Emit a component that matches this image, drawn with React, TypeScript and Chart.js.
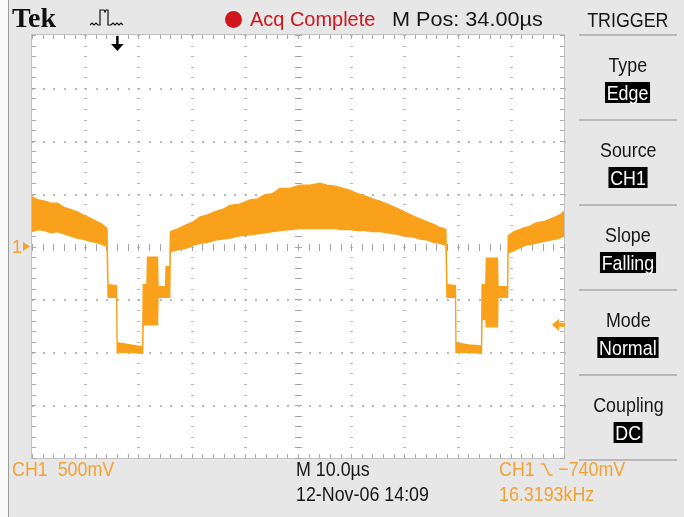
import React, { useEffect, useRef } from 'react';
import { Chart, registerables } from 'chart.js';

Chart.register(...registerables);

// CH1 record: time in µs across the 10-division screen, envelope of the noisy trace in volts
const sampleTime = [
  0.0, 1.2, 2.4, 3.6, 4.8, 6.0, 7.2, 8.4, 9.6, 10.8, 12.0, 13.2, 14.1,
  14.3, 15.9, 16.0, 18.5, 20.8, 20.9, 21.6, 21.7, 23.6, 23.7, 25.1, 25.2, 25.9,
  26.0, 27.5, 28.8, 30.2, 31.6, 33.0, 34.4, 35.8, 37.2, 39.0, 41.0, 42.4, 43.8,
  45.2, 46.6, 48.5, 50.4, 52.3, 54.1, 55.5, 57.0, 58.4, 59.8, 61.2, 62.6, 64.0,
  65.4, 66.8, 68.2, 69.9, 71.6, 73.0, 74.4, 75.5, 76.7, 77.8,
  78.0, 79.6, 79.7, 82.0, 84.5, 84.6, 85.3, 85.4, 87.5, 87.6, 89.4,
  89.5, 90.6, 91.7, 92.7, 93.6, 94.6, 95.5, 96.4, 97.4, 98.4, 99.2, 100.0,
];
const envelopeHigh = [
  0.47, 0.44, 0.43, 0.41, 0.41, 0.37, 0.35, 0.33, 0.30, 0.27, 0.24, 0.21, 0.17,
  -0.36, -0.37, -0.91, -0.93, -0.95, -0.36, -0.36, -0.10, -0.10, -0.38, -0.38, -0.19, -0.19,
  0.14, 0.17, 0.20, 0.23, 0.28, 0.30, 0.33, 0.35, 0.39, 0.40, 0.44, 0.45, 0.49,
  0.50, 0.55, 0.55, 0.58, 0.58, 0.60, 0.58, 0.57, 0.55, 0.53, 0.50, 0.48, 0.45,
  0.43, 0.40, 0.37, 0.33, 0.29, 0.26, 0.23, 0.21, 0.18, 0.16,
  -0.36, -0.37, -0.91, -0.93, -0.94, -0.36, -0.36, -0.11, -0.11, -0.38, -0.38,
  0.10, 0.14, 0.16, 0.18, 0.19, 0.22, 0.23, 0.24, 0.26, 0.28, 0.30, 0.33,
];
const envelopeLow = [
  0.14, 0.16, 0.15, 0.13, 0.14, 0.12, 0.10, 0.08, 0.07, 0.05, 0.04, 0.02, 0.00,
  -0.48, -0.48, -1.00, -1.00, -1.01, -0.74, -0.74, -0.74, -0.74, -0.48, -0.48, -0.48, -0.48,
  -0.05, -0.03, -0.02, 0.01, 0.03, 0.04, 0.06, 0.07, 0.08, 0.10, 0.11, 0.12, 0.13,
  0.14, 0.15, 0.16, 0.17, 0.17, 0.17, 0.17, 0.17, 0.16, 0.16, 0.15, 0.15, 0.14,
  0.14, 0.13, 0.12, 0.10, 0.09, 0.07, 0.06, 0.04, 0.03, 0.01,
  -0.48, -0.48, -1.00, -1.00, -1.01, -0.69, -0.69, -0.76, -0.76, -0.48, -0.48,
  -0.06, -0.04, -0.01, 0.01, 0.02, 0.03, 0.04, 0.05, 0.06, 0.07, 0.08, 0.10,
];

// Acquisition settings shown in the readouts
const TIME_PER_DIV = 10; // µs
const VOLTS_PER_DIV = 0.5; // V
const X_DIVS = 10;
const Y_DIVS = 8;
const MINOR = 5;
const H_POSITION = 34; // µs from trigger to screen centre
const TRIGGER_LEVEL = -0.74; // V
const CH1_REFERENCE = 0; // V
const TRIGGER_TIME = (X_DIVS * TIME_PER_DIV) / 2 - H_POSITION;
const TRIGGER_FREQ = '16.3193kHz';
const TIMESTAMP = '12-Nov-06 14:09';
const TRIGGER_MENU = [
  ['Type', 'Edge'],
  ['Source', 'CH1'],
  ['Slope', 'Falling'],
  ['Mode', 'Normal'],
  ['Coupling', 'DC'],
];

const TRACE = '#f9a11b';
const AMBER = '#f2a233';
const PANEL = '#e7e7e7';
const SANS = '"Liberation Sans", Arial, sans-serif';
const SQUEEZE = 0.85;

const screenPlugin = {
  id: 'scopeScreen',
  beforeDraw(chart: any) {
    const { ctx, chartArea: a } = chart;
    ctx.save();
    ctx.fillStyle = '#ffffff';
    ctx.fillRect(a.left, a.top, a.right - a.left, a.bottom - a.top);
    ctx.strokeStyle = '#c2c2c2';
    ctx.lineWidth = 1;
    ctx.strokeRect(a.left - 0.5, a.top - 0.5, a.right - a.left + 1, a.bottom - a.top + 1);
    ctx.restore();
  },
  beforeDatasetsDraw(chart: any) {
    const { ctx, chartArea: a, scales } = chart;
    const xs = scales.x;
    const ys = scales.y;
    const t0 = xs.min, t1 = xs.max, v0 = ys.min, v1 = ys.max;
    const tMinor = (t1 - t0) / (X_DIVS * MINOR);
    const vMinor = (v1 - v0) / (Y_DIVS * MINOR);
    ctx.save();
    // dotted division lines and the centre crosshair
    for (let i = 1; i < X_DIVS; i++) {
      const px = Math.round(xs.getPixelForValue(t0 + i * MINOR * tMinor));
      for (let j = 0; j <= Y_DIVS * MINOR; j++) {
        const py = Math.round(ys.getPixelForValue(v0 + j * vMinor));
        if (i === X_DIVS / 2) {
          ctx.fillStyle = '#a4a4a4';
          ctx.fillRect(px - 3, py, 7, 1);
        } else {
          ctx.fillStyle = '#b8b8b8';
          ctx.fillRect(px - 1, py, 3, 1);
        }
      }
    }
    for (let j = 1; j < Y_DIVS; j++) {
      const py = Math.round(ys.getPixelForValue(v0 + j * MINOR * vMinor));
      for (let i = 0; i <= X_DIVS * MINOR; i++) {
        const px = Math.round(xs.getPixelForValue(t0 + i * tMinor));
        if (j === Y_DIVS / 2) {
          ctx.fillStyle = '#a4a4a4';
          ctx.fillRect(px, py - 3, 1, 7);
        } else {
          ctx.fillStyle = '#b8b8b8';
          ctx.fillRect(px, py, 2, 2);
        }
      }
    }
    // border ticks
    ctx.fillStyle = '#a8a8a8';
    for (let i = 0; i <= X_DIVS * MINOR; i++) {
      const px = Math.round(xs.getPixelForValue(t0 + i * tMinor));
      ctx.fillRect(px, a.top, 1, 4);
      ctx.fillRect(px, a.bottom - 4, 1, 4);
    }
    for (let j = 0; j <= Y_DIVS * MINOR; j++) {
      const py = Math.round(ys.getPixelForValue(v0 + j * vMinor));
      ctx.fillRect(a.left, py, 4, 1);
      ctx.fillRect(a.right - 4, py, 4, 1);
    }
    ctx.restore();
  },
  afterDatasetsDraw(chart: any) {
    const { ctx, chartArea: a, scales } = chart;
    const xs = scales.x;
    const ys = scales.y;
    ctx.save();
    // CH1 ground reference marker
    const gy = ys.getPixelForValue(CH1_REFERENCE);
    ctx.fillStyle = AMBER;
    ctx.beginPath();
    ctx.moveTo(a.left - 9, gy - 4.5);
    ctx.lineTo(a.left - 2, gy);
    ctx.lineTo(a.left - 9, gy + 4.5);
    ctx.closePath();
    ctx.fill();
    // trigger level marker
    const ty = ys.getPixelForValue(TRIGGER_LEVEL);
    ctx.fillStyle = TRACE;
    ctx.beginPath();
    ctx.moveTo(a.right - 12, ty);
    ctx.lineTo(a.right - 5, ty - 6);
    ctx.lineTo(a.right - 5, ty + 6);
    ctx.closePath();
    ctx.fill();
    ctx.fillRect(a.right - 6, ty - 2, 7, 4);
    // trigger position marker
    const tx = xs.getPixelForValue(TRIGGER_TIME);
    ctx.fillStyle = '#000000';
    ctx.fillRect(tx - 1, a.top + 1, 2.5, 9);
    ctx.beginPath();
    ctx.moveTo(tx - 6, a.top + 9);
    ctx.lineTo(tx + 6.5, a.top + 9);
    ctx.lineTo(tx + 0.25, a.top + 16);
    ctx.closePath();
    ctx.fill();
    ctx.restore();
  },
};

function Readout({ x, cy, size = 21, color = '#161616', squeeze = SQUEEZE, children }: any) {
  return (
    <div
      style={{
        position: 'absolute',
        left: x,
        top: cy - 0.4885 * size,
        fontSize: size,
        lineHeight: `${size}px`,
        color,
        fontFamily: SANS,
        whiteSpace: 'pre',
        transform: `scaleX(${squeeze})`,
        transformOrigin: 'left center',
      }}
    >
      {children}
    </div>
  );
}

function Centered({ cy, size = 21, children, boxed = false }: any) {
  return (
    <div
      style={{
        position: 'absolute',
        left: 579,
        width: 98,
        top: boxed ? cy - 10.5 : cy - 0.4885 * size,
        textAlign: 'center',
        fontSize: size,
        lineHeight: `${boxed ? 21 : size}px`,
        fontFamily: SANS,
        whiteSpace: 'pre',
        color: '#161616',
      }}
    >
      <span
        style={{
          display: 'inline-block',
          transform: `scaleX(${SQUEEZE})`,
          background: boxed ? '#000' : 'transparent',
          color: boxed ? '#fff' : '#161616',
          padding: boxed ? '0 2px' : 0,
          height: boxed ? 21 : undefined,
        }}
      >
        {children}
      </span>
    </div>
  );
}

export default function App() {
  const canvasRef = useRef<HTMLCanvasElement | null>(null);

  useEffect(() => {
    const outline = [
      ...sampleTime.map((t, i) => ({ x: t, y: envelopeHigh[i] })),
      ...sampleTime.map((t, i) => ({ x: t, y: envelopeLow[i] })).reverse(),
    ];
    const chart = new Chart(canvasRef.current as HTMLCanvasElement, {
      type: 'line',
      data: {
        datasets: [
          {
            label: 'CH1',
            data: outline,
            borderColor: TRACE,
            backgroundColor: TRACE,
            borderWidth: 1.3,
            pointRadius: 0,
            tension: 0,
            fill: 'shape',
          } as any,
        ],
      },
      options: {
        animation: false,
        responsive: false,
        devicePixelRatio: 1,
        layout: { padding: { left: 32, top: 35, right: 120, bottom: 59 } },
        scales: {
          x: { type: 'linear', min: 0, max: X_DIVS * TIME_PER_DIV, display: false },
          y: {
            type: 'linear',
            min: (-Y_DIVS / 2) * VOLTS_PER_DIV,
            max: (Y_DIVS / 2) * VOLTS_PER_DIV,
            display: false,
          },
        },
        plugins: { legend: { display: false }, tooltip: { enabled: false } },
      },
      plugins: [screenPlugin],
    });
    return () => chart.destroy();
  }, []);

  const mv = (v: number) => `${Math.round(v * 1000)}mV`.replace('-', '\u2212');

  return (
    <div
      style={{
        position: 'fixed',
        left: 0,
        top: 0,
        width: 684,
        height: 517,
        background: PANEL,
        overflow: 'hidden',
      }}
    >
      <div style={{ position: 'absolute', left: 0, top: 0, width: 8, height: 517, background: '#fafafa' }} />
      <div style={{ position: 'absolute', left: 8, top: 0, width: 1, height: 517, background: '#9c9c9c' }} />
      <canvas ref={canvasRef} width={684} height={517} style={{ position: 'absolute', left: 0, top: 0 }} />

      {/* top status bar */}
      <div
        style={{
          position: 'absolute',
          left: 12,
          top: 4,
          fontFamily: '"Liberation Serif", "Times New Roman", serif',
          fontWeight: 700,
          fontSize: 28,
          lineHeight: '28px',
          color: '#111',
        }}
      >
        Tek
      </div>
      <svg style={{ position: 'absolute', left: 88, top: 6 }} width={36} height={22}>
        <polyline
          points="2,19 4,17 6,19 8,17 10,19 12,19 12,4 16,4 17,6 18,4 20,4 20,19 23,19 25,17 27,19 29,17 31,19 33,17 35,19"
          fill="none"
          stroke="#111"
          strokeWidth={1.2}
        />
      </svg>
      <div
        style={{
          position: 'absolute',
          left: 225,
          top: 11,
          width: 17,
          height: 17,
          borderRadius: '50%',
          background: '#d2141c',
        }}
      />
      <Readout x={250} cy={18.5} color="#d2141c" squeeze={0.95}>Acq Complete</Readout>
      <Readout x={392} cy={18.5} squeeze={1.03}>{`M Pos: ${H_POSITION.toFixed(2)}µs`}</Readout>

      {/* trigger menu */}
      <Centered cy={19}>TRIGGER</Centered>
      {[35, 120, 205, 290, 375, 460].map((y) => (
        <div key={y} style={{ position: 'absolute', left: 579, top: y - 1, width: 98, height: 2, background: '#b8b8b8' }} />
      ))}
      {TRIGGER_MENU.map(([label, value], k) => (
        <React.Fragment key={label}>
          <Centered cy={64.5 + 85 * k}>{label}</Centered>
          <Centered cy={92.5 + 85 * k} boxed>
            {value}
          </Centered>
        </React.Fragment>
      ))}

      {/* channel reference label */}
      <div
        style={{
          position: 'absolute',
          left: 12,
          top: 247 - 9,
          fontFamily: SANS,
          fontSize: 18,
          lineHeight: '18px',
          color: AMBER,
        }}
      >
        1
      </div>

      {/* bottom readouts */}
      <Readout x={12} cy={468} color={AMBER}>{`CH1  ${mv(VOLTS_PER_DIV)}`}</Readout>
      <Readout x={296} cy={468}>{`M ${TIME_PER_DIV.toFixed(1)}µs`}</Readout>
      <Readout x={296} cy={493}>{TIMESTAMP}</Readout>
      <Readout x={499} cy={468} color={AMBER}>
        {'CH1 '}
        <svg width={16} height={17} style={{ verticalAlign: '-2px' }}>
          <polyline points="1,3 5,3 11,14 15,14" fill="none" stroke={AMBER} strokeWidth={1.6} />
        </svg>
        {` ${mv(TRIGGER_LEVEL)}`}
      </Readout>
      <Readout x={499} cy={493} color={AMBER}>{TRIGGER_FREQ}</Readout>
    </div>
  );
}
